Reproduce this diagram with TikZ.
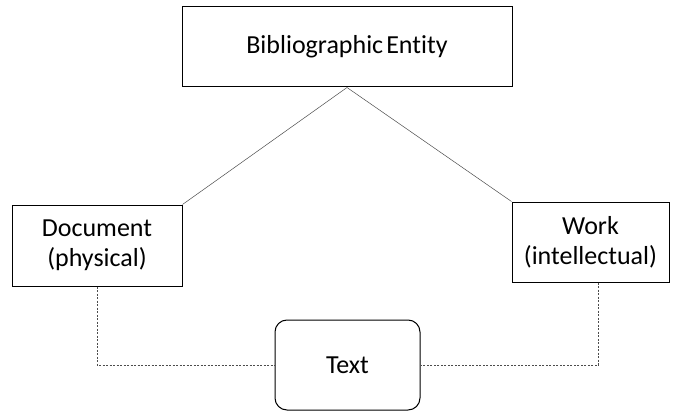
\documentclass[tikz,border=0pt]{standalone}
\usepackage{fontspec}
\setmainfont{Carlito}[Ligatures=NoCommon]
\begin{document}
\begin{tikzpicture}[x=1pt,y=-1pt,
  box/.style={draw=black, line width=1pt, fill=white, inner sep=0pt, align=center, font=\fontsize{26}{30}\selectfont},
  conn/.style={draw=black!70, line width=0.5pt},
  dconn/.style={draw=black!70, line width=0.6pt, dash pattern=on 2pt off 1.5pt}]
\useasboundingbox (0,0) rectangle (673,412);
\node[box, minimum width=330pt, minimum height=80pt] (be) at (347,47) {Bibliographic\hspace{0.12em}Entity};
\node[box, minimum width=170pt, minimum height=81pt] (doc) at (97,245.5) {Document\\(physical)};
\node[box, minimum width=157pt, minimum height=80pt] (work) at (590.5,242) {Work\\(intellectual)};
\node[box, rounded corners=12pt, minimum width=145pt, minimum height=90pt] (txt) at (347.5,365) {Text};
\draw[conn] (doc.north east) -- (be.south);
\draw[conn] (work.north west) -- (be.south);
\coordinate (dl) at (doc.south |- txt.west);
\coordinate (wl) at (598,0 |- txt.east);
\draw[dconn] (doc.south) -- (dl) -- (txt.west);
\draw[dconn] (598,0 |- work.south) -- (wl) -- (txt.east);
\end{tikzpicture}
\end{document}
